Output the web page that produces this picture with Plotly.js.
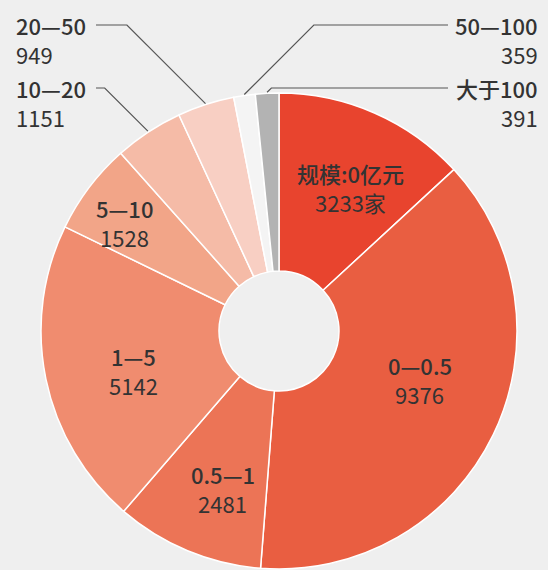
<!DOCTYPE html>
<html>
<head>
<meta charset="utf-8">
<script src="https://cdn.plot.ly/plotly-3.0.1.min.js"></script>
<style>
  html, body { margin: 0; padding: 0; background: #efefef; overflow: hidden; }
  #chart { width: 548px; height: 570px; }
</style>
</head>
<body>
<div id="chart"></div>
<script>
// 企业规模分布（亿元）与家数
const categories = ['规模:0亿元', '0—0.5', '0.5—1', '1—5', '5—10', '10—20', '20—50', '50—100', '大于100'];
const counts = [3233, 9376, 2481, 5142, 1528, 1151, 949, 359, 391];
const valueLabels = ['3233家', '9376', '2481', '5142', '1528', '1151', '949', '359', '391'];
const sliceColors = ['#e8442e', '#e95e41', '#ec7456', '#f08c6f', '#f2a588', '#f5bba7', '#f8cfc3', '#f4f4f4', '#b3b3b3'];

const W = 548, H = 570;
const cx = 279, cy = 331, R = 238;   // pie centre and radius in px
const holeFrac = 0.252;
const lineGap = 29;                  // distance between the two label lines

const px = x => x / W;
const py = y => 1 - y / H;

// mid angle of every slice, clockwise from 12 o'clock (degrees)
const total = counts.reduce((a, b) => a + b, 0);
const midAngles = [];
let acc = 0;
counts.forEach(v => {
  const span = v / total * 360;
  midAngles.push(acc + span / 2);
  acc += span;
});
const polar = (ang, r) => {
  const t = ang * Math.PI / 180;
  return [cx + r * Math.sin(t), cy - r * Math.cos(t)];
};

const fontFamily = '"Noto Sans CJK SC", "Noto Sans", sans-serif';
const catFont = { family: fontFamily, size: 22, color: '#333333', weight: 500 };
const valFont = { family: fontFamily, size: 22, color: '#333333', weight: 400 };

const annotations = [];
const addLine = (text, x, y, font, anchor) => annotations.push({
  text: text, x: px(x), y: py(y), xref: 'paper', yref: 'paper',
  xanchor: anchor, yanchor: 'middle', showarrow: false, font: font
});
// category on top, count underneath; (x, y) is the middle of the pair
const addLabel = (i, x, y, anchor) => {
  addLine(categories[i], x, y - lineGap / 2, catFont, anchor);
  addLine(valueLabels[i], x, y + lineGap / 2, valFont, anchor);
};

// labels drawn inside the larger slices: radius and angular nudge
const insidePlacement = [
  { i: 0, r: 160, nudge: 3 },
  { i: 1, r: 149, nudge: -7 },
  { i: 2, r: 167, nudge: -3 },
  { i: 3, r: 151, nudge: -3.5 },
  { i: 4, r: 189, nudge: -2 }
];
insidePlacement.forEach(p => {
  const [x, y] = polar(midAngles[p.i] + p.nudge, p.r);
  addLabel(p.i, x, y, 'center');
});

// labels outside the small slices, joined by elbow leader lines
const outsidePlacement = [
  { i: 6, side: 'left',  y: 25 },
  { i: 5, side: 'left',  y: 88 },
  { i: 7, side: 'right', y: 25 },
  { i: 8, side: 'right', y: 88 }
];
const shapes = [];
outsidePlacement.forEach(p => {
  const left = p.side === 'left';
  const tx = left ? 14 : 540;
  addLabel(p.i, tx, p.y + lineGap / 2, left ? 'left' : 'right');
  const [ex, ey] = polar(midAngles[p.i], R + 1);
  const rise = ey - p.y;
  const elbowX = left ? ex - rise : ex + rise;
  const endX = left ? 96 : 448;
  shapes.push({
    type: 'path', xref: 'paper', yref: 'paper',
    path: `M ${px(ex)} ${py(ey)} L ${px(elbowX)} ${py(p.y)} L ${px(endX)} ${py(p.y)}`,
    line: { color: '#555555', width: 1.2 }
  });
});

const trace = {
  type: 'pie',
  labels: categories,
  values: counts,
  sort: false,
  direction: 'clockwise',
  rotation: 0,
  hole: holeFrac,
  textinfo: 'none',
  hoverinfo: 'label+value',
  marker: { colors: sliceColors, line: { color: '#ffffff', width: 1.5 } },
  domain: { x: [px(cx - R), px(cx + R)], y: [py(cy + R), py(cy - R)] },
  showlegend: false
};

const layout = {
  width: W, height: H,
  margin: { l: 0, r: 0, t: 0, b: 0 },
  paper_bgcolor: '#efefef',
  plot_bgcolor: '#efefef',
  showlegend: false,
  annotations: annotations,
  shapes: shapes
};

Plotly.newPlot('chart', [trace], layout, { displayModeBar: false, staticPlot: true });
</script>
</body>
</html>
